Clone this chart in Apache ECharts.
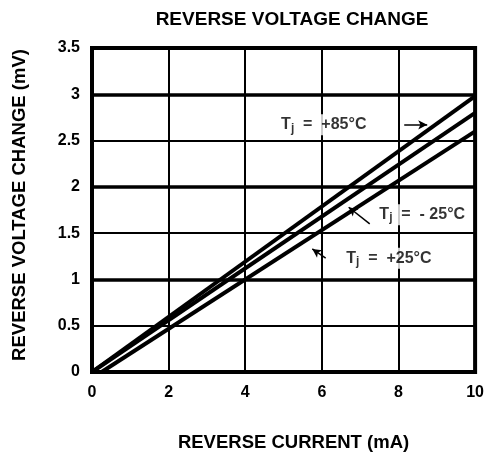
<!DOCTYPE html>
<html>
<head>
<meta charset="utf-8">
<script src="https://cdn.jsdelivr.net/npm/echarts@6/dist/echarts.min.js"></script>
<style>
html, body { margin: 0; padding: 0; background: #fff; }
#main { width: 487px; height: 458px; }
</style>
</head>
<body>
<div id="main"></div>
<script>
// curves: [current mA, voltage change mV]
var t85 = [[0, 0], [10, 2.98]];
var tm25 = [[0, 0], [10, 2.8]];
var t25 = [[0.25, 0], [10, 2.6]];

// labels and their arrows (data units)
var labelPos = [[6.05, 2.67], [8.62, 1.7], [7.75, 1.23]];
var labelText = ['+85°C', '- 25°C', '+25°C'];
var arrows = [
  [[8.15, 2.67], [8.75, 2.67]],
  [[7.25, 1.6], [6.7, 1.78]],
  [[6.1, 1.23], [5.75, 1.33]]
];

var myChart = echarts.init(document.getElementById('main'));
var font = '"Liberation Sans", Arial, sans-serif';

var lineStyle = { color: '#000', width: 4 };

option = {
  animation: false,
  backgroundColor: '#fff',
  title: {
    text: 'REVERSE VOLTAGE CHANGE',
    left: 287, top: 5, textAlign: 'center',
    textStyle: { fontFamily: font, fontSize: 19, fontWeight: 'bold', color: '#000' }
  },
  grid: {
    left: 92, right: 9, top: 48, bottom: 86,
    show: true, borderColor: '#000', borderWidth: 4
  },
  xAxis: {
    type: 'value', min: 0, max: 10, interval: 2,
    name: 'REVERSE CURRENT (mA)', nameLocation: 'middle', nameGap: 61,
    nameTextStyle: { fontFamily: font, fontSize: 18.5, fontWeight: 'bold', color: '#000', padding: [0, 0, 0, 20] },
    axisLine: { show: false }, axisTick: { show: false },
    axisLabel: { margin: 13, fontFamily: font, fontSize: 16, fontWeight: 'bold', color: '#000' },
    splitLine: { lineStyle: { color: '#000', width: 2 } }
  },
  yAxis: [{
    type: 'value', min: 0, max: 3.5, interval: 0.5,
    name: 'REVERSE VOLTAGE CHANGE (mV)', nameLocation: 'middle', nameGap: 63,
    nameTextStyle: { fontFamily: font, fontSize: 18.5, fontWeight: 'bold', color: '#000', padding: [0, 0, 0, 10] },
    axisLine: { show: false }, axisTick: { show: false },
    axisLabel: { margin: 12, fontFamily: font, fontSize: 16, fontWeight: 'bold', color: '#000' },
    splitLine: { lineStyle: { color: '#000', width: 2 } }
  }, {
    type: 'value', min: 0, max: 3.5, interval: 1, position: 'left',
    axisLine: { show: false }, axisTick: { show: false }, axisLabel: { show: false },
    splitLine: { lineStyle: { color: '#000', width: 3.5 } }
  }],
  series: [
    { type: 'line', data: t85, symbol: 'none', lineStyle: lineStyle },
    { type: 'line', data: tm25, symbol: 'none', lineStyle: lineStyle },
    { type: 'line', data: t25, symbol: 'none', lineStyle: lineStyle },
    {
      type: 'scatter', symbolSize: 0, silent: true,
      data: labelPos.map(function (p, i) {
        return { value: p, label: { formatter: '{t|T}{s|j}{t|  =  ' + labelText[i] + '}' } };
      }),
      label: {
        show: true, position: 'inside', backgroundColor: '#fff', padding: [1, 2],
        rich: {
          t: { fontFamily: font, fontSize: 16, fontWeight: 'bold', color: '#000' },
          s: { fontFamily: font, fontSize: 12, fontWeight: 'bold', color: '#000', verticalAlign: 'bottom', padding: [7, 0, 0, 0] }
        }
      },
      markLine: {
        silent: true, symbol: ['none', 'arrow'], symbolSize: [7, 9],
        label: { show: false },
        lineStyle: { color: '#000', width: 1.5, type: 'solid' },
        data: arrows.map(function (a) {
          return [{ coord: a[0] }, { coord: a[1] }];
        })
      },
      z: 5
    }
  ]
};

myChart.setOption(option);
</script>
</body>
</html>
